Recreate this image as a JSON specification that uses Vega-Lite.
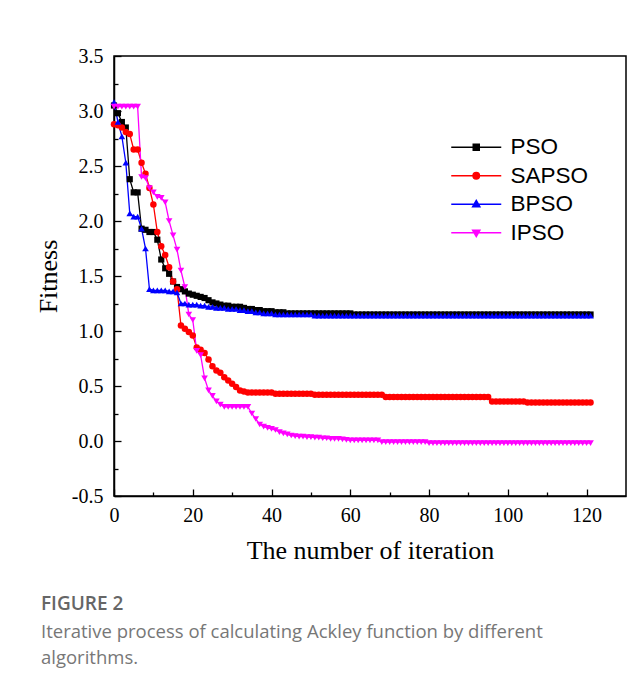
{
"$schema": "https://vega.github.io/schema/vega-lite/v6.json",
"width": 512, "height": 440,
"autosize": {"type": "none"},
"padding": {"left": 114, "top": 56, "right": 17, "bottom": 191},
"background": "white",
"config": {"view": {"stroke": "black", "strokeWidth": 1.5}},
"title": {"text": "FIGURE 2", "subtitle": ["Iterative process of calculating Ackley function by different", "algorithms."], "orient": "bottom", "anchor": "start", "frame": "group", "dx": -73, "offset": 32, "font": "Open Sans", "fontSize": 19, "fontWeight": 600, "color": "#666666", "subtitleFont": "Open Sans", "subtitleFontSize": 18.5, "subtitleColor": "#777777", "subtitleLineHeight": 26, "subtitlePadding": 9},
"data": {"values": [
{"i":0,"s":"PSO","f":3.05},{"i":1,"s":"PSO","f":2.98},{"i":2,"s":"PSO","f":2.9},{"i":3,"s":"PSO","f":2.85},{"i":4,"s":"PSO","f":2.38},{"i":5,"s":"PSO","f":2.26},{"i":6,"s":"PSO","f":2.26},{"i":7,"s":"PSO","f":1.93},{"i":8,"s":"PSO","f":1.92},{"i":9,"s":"PSO","f":1.9},{"i":10,"s":"PSO","f":1.9},{"i":11,"s":"PSO","f":1.83},{"i":12,"s":"PSO","f":1.65},{"i":13,"s":"PSO","f":1.57},{"i":14,"s":"PSO","f":1.52},{"i":15,"s":"PSO","f":1.45},{"i":16,"s":"PSO","f":1.4},{"i":17,"s":"PSO","f":1.38},{"i":18,"s":"PSO","f":1.36},{"i":19,"s":"PSO","f":1.34},{"i":20,"s":"PSO","f":1.33},{"i":21,"s":"PSO","f":1.32},{"i":22,"s":"PSO","f":1.31},{"i":23,"s":"PSO","f":1.3},{"i":24,"s":"PSO","f":1.28},{"i":25,"s":"PSO","f":1.26},{"i":26,"s":"PSO","f":1.25},{"i":27,"s":"PSO","f":1.24},{"i":28,"s":"PSO","f":1.23},{"i":29,"s":"PSO","f":1.23},{"i":30,"s":"PSO","f":1.22},{"i":31,"s":"PSO","f":1.22},{"i":32,"s":"PSO","f":1.22},{"i":33,"s":"PSO","f":1.21},{"i":34,"s":"PSO","f":1.2},{"i":35,"s":"PSO","f":1.2},{"i":36,"s":"PSO","f":1.19},{"i":37,"s":"PSO","f":1.19},{"i":38,"s":"PSO","f":1.18},{"i":39,"s":"PSO","f":1.18},{"i":40,"s":"PSO","f":1.18},{"i":41,"s":"PSO","f":1.17},{"i":42,"s":"PSO","f":1.17},{"i":43,"s":"PSO","f":1.17},{"i":44,"s":"PSO","f":1.16},{"i":45,"s":"PSO","f":1.16},{"i":46,"s":"PSO","f":1.16},{"i":47,"s":"PSO","f":1.16},{"i":48,"s":"PSO","f":1.16},{"i":49,"s":"PSO","f":1.16},{"i":50,"s":"PSO","f":1.16},{"i":51,"s":"PSO","f":1.16},{"i":52,"s":"PSO","f":1.16},{"i":53,"s":"PSO","f":1.16},{"i":54,"s":"PSO","f":1.16},{"i":55,"s":"PSO","f":1.16},{"i":56,"s":"PSO","f":1.16},{"i":57,"s":"PSO","f":1.16},{"i":58,"s":"PSO","f":1.16},{"i":59,"s":"PSO","f":1.16},{"i":60,"s":"PSO","f":1.16},
{"i":61,"s":"PSO","f":1.15},{"i":62,"s":"PSO","f":1.15},{"i":63,"s":"PSO","f":1.15},{"i":64,"s":"PSO","f":1.15},{"i":65,"s":"PSO","f":1.15},{"i":66,"s":"PSO","f":1.15},{"i":67,"s":"PSO","f":1.15},{"i":68,"s":"PSO","f":1.15},{"i":69,"s":"PSO","f":1.15},{"i":70,"s":"PSO","f":1.15},{"i":71,"s":"PSO","f":1.15},{"i":72,"s":"PSO","f":1.15},{"i":73,"s":"PSO","f":1.15},{"i":74,"s":"PSO","f":1.15},{"i":75,"s":"PSO","f":1.15},{"i":76,"s":"PSO","f":1.15},{"i":77,"s":"PSO","f":1.15},{"i":78,"s":"PSO","f":1.15},{"i":79,"s":"PSO","f":1.15},{"i":80,"s":"PSO","f":1.15},{"i":81,"s":"PSO","f":1.15},{"i":82,"s":"PSO","f":1.15},{"i":83,"s":"PSO","f":1.15},{"i":84,"s":"PSO","f":1.15},{"i":85,"s":"PSO","f":1.15},{"i":86,"s":"PSO","f":1.15},{"i":87,"s":"PSO","f":1.15},{"i":88,"s":"PSO","f":1.15},{"i":89,"s":"PSO","f":1.15},{"i":90,"s":"PSO","f":1.15},{"i":91,"s":"PSO","f":1.15},{"i":92,"s":"PSO","f":1.15},{"i":93,"s":"PSO","f":1.15},{"i":94,"s":"PSO","f":1.15},{"i":95,"s":"PSO","f":1.15},{"i":96,"s":"PSO","f":1.15},{"i":97,"s":"PSO","f":1.15},{"i":98,"s":"PSO","f":1.15},{"i":99,"s":"PSO","f":1.15},{"i":100,"s":"PSO","f":1.15},{"i":101,"s":"PSO","f":1.15},{"i":102,"s":"PSO","f":1.15},{"i":103,"s":"PSO","f":1.15},{"i":104,"s":"PSO","f":1.15},{"i":105,"s":"PSO","f":1.15},{"i":106,"s":"PSO","f":1.15},{"i":107,"s":"PSO","f":1.15},{"i":108,"s":"PSO","f":1.15},{"i":109,"s":"PSO","f":1.15},{"i":110,"s":"PSO","f":1.15},{"i":111,"s":"PSO","f":1.15},{"i":112,"s":"PSO","f":1.15},{"i":113,"s":"PSO","f":1.15},{"i":114,"s":"PSO","f":1.15},{"i":115,"s":"PSO","f":1.15},{"i":116,"s":"PSO","f":1.15},{"i":117,"s":"PSO","f":1.15},{"i":118,"s":"PSO","f":1.15},{"i":119,"s":"PSO","f":1.15},{"i":120,"s":"PSO","f":1.15},{"i":121,"s":"PSO","f":1.15},
{"i":0,"s":"SAPSO","f":2.88},{"i":1,"s":"SAPSO","f":2.87},{"i":2,"s":"SAPSO","f":2.85},{"i":3,"s":"SAPSO","f":2.81},{"i":4,"s":"SAPSO","f":2.79},{"i":5,"s":"SAPSO","f":2.65},{"i":6,"s":"SAPSO","f":2.65},{"i":7,"s":"SAPSO","f":2.53},{"i":8,"s":"SAPSO","f":2.43},{"i":9,"s":"SAPSO","f":2.3},{"i":10,"s":"SAPSO","f":2.15},{"i":11,"s":"SAPSO","f":1.9},{"i":12,"s":"SAPSO","f":1.77},{"i":13,"s":"SAPSO","f":1.69},{"i":14,"s":"SAPSO","f":1.58},{"i":15,"s":"SAPSO","f":1.45},{"i":16,"s":"SAPSO","f":1.38},{"i":17,"s":"SAPSO","f":1.05},{"i":18,"s":"SAPSO","f":1.02},{"i":19,"s":"SAPSO","f":0.99},{"i":20,"s":"SAPSO","f":0.96},{"i":21,"s":"SAPSO","f":0.85},{"i":22,"s":"SAPSO","f":0.83},{"i":23,"s":"SAPSO","f":0.8},{"i":24,"s":"SAPSO","f":0.74},{"i":25,"s":"SAPSO","f":0.68},{"i":26,"s":"SAPSO","f":0.64},{"i":27,"s":"SAPSO","f":0.62},{"i":28,"s":"SAPSO","f":0.58},{"i":29,"s":"SAPSO","f":0.55},{"i":30,"s":"SAPSO","f":0.52},{"i":31,"s":"SAPSO","f":0.49},{"i":32,"s":"SAPSO","f":0.46},{"i":33,"s":"SAPSO","f":0.45},{"i":34,"s":"SAPSO","f":0.44},{"i":35,"s":"SAPSO","f":0.44},{"i":36,"s":"SAPSO","f":0.44},{"i":37,"s":"SAPSO","f":0.44},{"i":38,"s":"SAPSO","f":0.44},{"i":39,"s":"SAPSO","f":0.44},{"i":40,"s":"SAPSO","f":0.44},{"i":41,"s":"SAPSO","f":0.43},{"i":42,"s":"SAPSO","f":0.43},{"i":43,"s":"SAPSO","f":0.43},{"i":44,"s":"SAPSO","f":0.43},{"i":45,"s":"SAPSO","f":0.43},{"i":46,"s":"SAPSO","f":0.43},{"i":47,"s":"SAPSO","f":0.43},{"i":48,"s":"SAPSO","f":0.43},{"i":49,"s":"SAPSO","f":0.43},{"i":50,"s":"SAPSO","f":0.43},{"i":51,"s":"SAPSO","f":0.42},{"i":52,"s":"SAPSO","f":0.42},{"i":53,"s":"SAPSO","f":0.42},{"i":54,"s":"SAPSO","f":0.42},{"i":55,"s":"SAPSO","f":0.42},{"i":56,"s":"SAPSO","f":0.42},{"i":57,"s":"SAPSO","f":0.42},{"i":58,"s":"SAPSO","f":0.42},{"i":59,"s":"SAPSO","f":0.42},{"i":60,"s":"SAPSO","f":0.42},{"i":61,"s":"SAPSO","f":0.42},{"i":62,"s":"SAPSO","f":0.42},{"i":63,"s":"SAPSO","f":0.42},{"i":64,"s":"SAPSO","f":0.42},{"i":65,"s":"SAPSO","f":0.42},{"i":66,"s":"SAPSO","f":0.42},{"i":67,"s":"SAPSO","f":0.42},{"i":68,"s":"SAPSO","f":0.42},
{"i":69,"s":"SAPSO","f":0.4},{"i":70,"s":"SAPSO","f":0.4},{"i":71,"s":"SAPSO","f":0.4},{"i":72,"s":"SAPSO","f":0.4},{"i":73,"s":"SAPSO","f":0.4},{"i":74,"s":"SAPSO","f":0.4},{"i":75,"s":"SAPSO","f":0.4},{"i":76,"s":"SAPSO","f":0.4},{"i":77,"s":"SAPSO","f":0.4},{"i":78,"s":"SAPSO","f":0.4},{"i":79,"s":"SAPSO","f":0.4},{"i":80,"s":"SAPSO","f":0.4},{"i":81,"s":"SAPSO","f":0.4},{"i":82,"s":"SAPSO","f":0.4},{"i":83,"s":"SAPSO","f":0.4},{"i":84,"s":"SAPSO","f":0.4},{"i":85,"s":"SAPSO","f":0.4},{"i":86,"s":"SAPSO","f":0.4},{"i":87,"s":"SAPSO","f":0.4},{"i":88,"s":"SAPSO","f":0.4},{"i":89,"s":"SAPSO","f":0.4},{"i":90,"s":"SAPSO","f":0.4},{"i":91,"s":"SAPSO","f":0.4},{"i":92,"s":"SAPSO","f":0.4},{"i":93,"s":"SAPSO","f":0.4},{"i":94,"s":"SAPSO","f":0.4},{"i":95,"s":"SAPSO","f":0.4},{"i":96,"s":"SAPSO","f":0.36},{"i":97,"s":"SAPSO","f":0.36},{"i":98,"s":"SAPSO","f":0.36},{"i":99,"s":"SAPSO","f":0.36},{"i":100,"s":"SAPSO","f":0.36},{"i":101,"s":"SAPSO","f":0.36},{"i":102,"s":"SAPSO","f":0.36},{"i":103,"s":"SAPSO","f":0.36},{"i":104,"s":"SAPSO","f":0.36},{"i":105,"s":"SAPSO","f":0.35},{"i":106,"s":"SAPSO","f":0.35},{"i":107,"s":"SAPSO","f":0.35},{"i":108,"s":"SAPSO","f":0.35},{"i":109,"s":"SAPSO","f":0.35},{"i":110,"s":"SAPSO","f":0.35},{"i":111,"s":"SAPSO","f":0.35},{"i":112,"s":"SAPSO","f":0.35},{"i":113,"s":"SAPSO","f":0.35},{"i":114,"s":"SAPSO","f":0.35},{"i":115,"s":"SAPSO","f":0.35},{"i":116,"s":"SAPSO","f":0.35},{"i":117,"s":"SAPSO","f":0.35},{"i":118,"s":"SAPSO","f":0.35},{"i":119,"s":"SAPSO","f":0.35},{"i":120,"s":"SAPSO","f":0.35},{"i":121,"s":"SAPSO","f":0.35},
{"i":0,"s":"BPSO","f":3.08},{"i":1,"s":"BPSO","f":2.9},{"i":2,"s":"BPSO","f":2.77},{"i":3,"s":"BPSO","f":2.53},{"i":4,"s":"BPSO","f":2.07},{"i":5,"s":"BPSO","f":2.04},{"i":6,"s":"BPSO","f":2.04},{"i":7,"s":"BPSO","f":1.93},{"i":8,"s":"BPSO","f":1.75},{"i":9,"s":"BPSO","f":1.38},{"i":10,"s":"BPSO","f":1.37},{"i":11,"s":"BPSO","f":1.37},{"i":12,"s":"BPSO","f":1.37},{"i":13,"s":"BPSO","f":1.37},{"i":14,"s":"BPSO","f":1.36},{"i":15,"s":"BPSO","f":1.36},{"i":16,"s":"BPSO","f":1.35},{"i":17,"s":"BPSO","f":1.25},{"i":18,"s":"BPSO","f":1.25},{"i":19,"s":"BPSO","f":1.24},{"i":20,"s":"BPSO","f":1.24},{"i":21,"s":"BPSO","f":1.24},{"i":22,"s":"BPSO","f":1.23},{"i":23,"s":"BPSO","f":1.23},{"i":24,"s":"BPSO","f":1.22},{"i":25,"s":"BPSO","f":1.22},{"i":26,"s":"BPSO","f":1.21},{"i":27,"s":"BPSO","f":1.21},{"i":28,"s":"BPSO","f":1.21},{"i":29,"s":"BPSO","f":1.2},{"i":30,"s":"BPSO","f":1.2},{"i":31,"s":"BPSO","f":1.2},{"i":32,"s":"BPSO","f":1.19},{"i":33,"s":"BPSO","f":1.19},{"i":34,"s":"BPSO","f":1.18},{"i":35,"s":"BPSO","f":1.18},{"i":36,"s":"BPSO","f":1.17},{"i":37,"s":"BPSO","f":1.17},{"i":38,"s":"BPSO","f":1.16},{"i":39,"s":"BPSO","f":1.16},{"i":40,"s":"BPSO","f":1.16},{"i":41,"s":"BPSO","f":1.15},{"i":42,"s":"BPSO","f":1.15},{"i":43,"s":"BPSO","f":1.15},{"i":44,"s":"BPSO","f":1.15},{"i":45,"s":"BPSO","f":1.15},{"i":46,"s":"BPSO","f":1.15},{"i":47,"s":"BPSO","f":1.15},{"i":48,"s":"BPSO","f":1.15},{"i":49,"s":"BPSO","f":1.15},{"i":50,"s":"BPSO","f":1.15},
{"i":51,"s":"BPSO","f":1.14},{"i":52,"s":"BPSO","f":1.14},{"i":53,"s":"BPSO","f":1.14},{"i":54,"s":"BPSO","f":1.14},{"i":55,"s":"BPSO","f":1.14},{"i":56,"s":"BPSO","f":1.14},{"i":57,"s":"BPSO","f":1.14},{"i":58,"s":"BPSO","f":1.14},{"i":59,"s":"BPSO","f":1.14},{"i":60,"s":"BPSO","f":1.14},{"i":61,"s":"BPSO","f":1.14},{"i":62,"s":"BPSO","f":1.14},{"i":63,"s":"BPSO","f":1.14},{"i":64,"s":"BPSO","f":1.14},{"i":65,"s":"BPSO","f":1.14},{"i":66,"s":"BPSO","f":1.14},{"i":67,"s":"BPSO","f":1.14},{"i":68,"s":"BPSO","f":1.14},{"i":69,"s":"BPSO","f":1.14},{"i":70,"s":"BPSO","f":1.14},{"i":71,"s":"BPSO","f":1.14},{"i":72,"s":"BPSO","f":1.14},{"i":73,"s":"BPSO","f":1.14},{"i":74,"s":"BPSO","f":1.14},{"i":75,"s":"BPSO","f":1.14},{"i":76,"s":"BPSO","f":1.14},{"i":77,"s":"BPSO","f":1.14},{"i":78,"s":"BPSO","f":1.14},{"i":79,"s":"BPSO","f":1.14},{"i":80,"s":"BPSO","f":1.14},{"i":81,"s":"BPSO","f":1.14},{"i":82,"s":"BPSO","f":1.14},{"i":83,"s":"BPSO","f":1.14},{"i":84,"s":"BPSO","f":1.14},{"i":85,"s":"BPSO","f":1.14},{"i":86,"s":"BPSO","f":1.14},{"i":87,"s":"BPSO","f":1.14},{"i":88,"s":"BPSO","f":1.14},{"i":89,"s":"BPSO","f":1.14},{"i":90,"s":"BPSO","f":1.14},{"i":91,"s":"BPSO","f":1.14},{"i":92,"s":"BPSO","f":1.14},{"i":93,"s":"BPSO","f":1.14},{"i":94,"s":"BPSO","f":1.14},{"i":95,"s":"BPSO","f":1.14},{"i":96,"s":"BPSO","f":1.14},{"i":97,"s":"BPSO","f":1.14},{"i":98,"s":"BPSO","f":1.14},{"i":99,"s":"BPSO","f":1.14},{"i":100,"s":"BPSO","f":1.14},{"i":101,"s":"BPSO","f":1.14},{"i":102,"s":"BPSO","f":1.14},{"i":103,"s":"BPSO","f":1.14},{"i":104,"s":"BPSO","f":1.14},{"i":105,"s":"BPSO","f":1.14},{"i":106,"s":"BPSO","f":1.14},{"i":107,"s":"BPSO","f":1.14},{"i":108,"s":"BPSO","f":1.14},{"i":109,"s":"BPSO","f":1.14},{"i":110,"s":"BPSO","f":1.14},{"i":111,"s":"BPSO","f":1.14},{"i":112,"s":"BPSO","f":1.14},{"i":113,"s":"BPSO","f":1.14},{"i":114,"s":"BPSO","f":1.14},{"i":115,"s":"BPSO","f":1.14},{"i":116,"s":"BPSO","f":1.14},{"i":117,"s":"BPSO","f":1.14},{"i":118,"s":"BPSO","f":1.14},{"i":119,"s":"BPSO","f":1.14},{"i":120,"s":"BPSO","f":1.14},{"i":121,"s":"BPSO","f":1.14},
{"i":0,"s":"IPSO","f":3.04},{"i":1,"s":"IPSO","f":3.04},{"i":2,"s":"IPSO","f":3.04},{"i":3,"s":"IPSO","f":3.04},{"i":4,"s":"IPSO","f":3.04},{"i":5,"s":"IPSO","f":3.04},{"i":6,"s":"IPSO","f":3.04},{"i":7,"s":"IPSO","f":2.4},{"i":8,"s":"IPSO","f":2.39},{"i":9,"s":"IPSO","f":2.3},{"i":10,"s":"IPSO","f":2.26},{"i":11,"s":"IPSO","f":2.22},{"i":12,"s":"IPSO","f":2.21},{"i":13,"s":"IPSO","f":2.17},{"i":14,"s":"IPSO","f":2.0},{"i":15,"s":"IPSO","f":1.87},{"i":16,"s":"IPSO","f":1.74},{"i":17,"s":"IPSO","f":1.55},{"i":18,"s":"IPSO","f":1.4},{"i":19,"s":"IPSO","f":1.15},{"i":20,"s":"IPSO","f":1.1},{"i":21,"s":"IPSO","f":0.82},{"i":22,"s":"IPSO","f":0.78},{"i":23,"s":"IPSO","f":0.57},{"i":24,"s":"IPSO","f":0.46},{"i":25,"s":"IPSO","f":0.41},{"i":26,"s":"IPSO","f":0.36},{"i":27,"s":"IPSO","f":0.33},{"i":28,"s":"IPSO","f":0.31},{"i":29,"s":"IPSO","f":0.31},{"i":30,"s":"IPSO","f":0.31},{"i":31,"s":"IPSO","f":0.31},{"i":32,"s":"IPSO","f":0.31},{"i":33,"s":"IPSO","f":0.31},{"i":34,"s":"IPSO","f":0.31},{"i":35,"s":"IPSO","f":0.25},{"i":36,"s":"IPSO","f":0.2},{"i":37,"s":"IPSO","f":0.15},{"i":38,"s":"IPSO","f":0.13},{"i":39,"s":"IPSO","f":0.12},{"i":40,"s":"IPSO","f":0.11},{"i":41,"s":"IPSO","f":0.1},{"i":42,"s":"IPSO","f":0.08},{"i":43,"s":"IPSO","f":0.07},{"i":44,"s":"IPSO","f":0.06},{"i":45,"s":"IPSO","f":0.05},{"i":46,"s":"IPSO","f":0.045},{"i":47,"s":"IPSO","f":0.04},{"i":48,"s":"IPSO","f":0.04},{"i":49,"s":"IPSO","f":0.035},{"i":50,"s":"IPSO","f":0.035},{"i":51,"s":"IPSO","f":0.03},{"i":52,"s":"IPSO","f":0.03},{"i":53,"s":"IPSO","f":0.025},{"i":54,"s":"IPSO","f":0.025},{"i":55,"s":"IPSO","f":0.02},{"i":56,"s":"IPSO","f":0.02},{"i":57,"s":"IPSO","f":0.02},{"i":58,"s":"IPSO","f":0.015},{"i":59,"s":"IPSO","f":0.01},{"i":60,"s":"IPSO","f":0.005},{"i":61,"s":"IPSO","f":0.005},{"i":62,"s":"IPSO","f":0.005},{"i":63,"s":"IPSO","f":0.005},{"i":64,"s":"IPSO","f":0.005},{"i":65,"s":"IPSO","f":0.005},{"i":66,"s":"IPSO","f":0.005},{"i":67,"s":"IPSO","f":0.005},
{"i":68,"s":"IPSO","f":-0.01},{"i":69,"s":"IPSO","f":-0.01},{"i":70,"s":"IPSO","f":-0.01},{"i":71,"s":"IPSO","f":-0.01},{"i":72,"s":"IPSO","f":-0.01},{"i":73,"s":"IPSO","f":-0.01},{"i":74,"s":"IPSO","f":-0.01},{"i":75,"s":"IPSO","f":-0.01},{"i":76,"s":"IPSO","f":-0.01},{"i":77,"s":"IPSO","f":-0.01},{"i":78,"s":"IPSO","f":-0.01},{"i":79,"s":"IPSO","f":-0.01},{"i":80,"s":"IPSO","f":-0.02},{"i":81,"s":"IPSO","f":-0.02},{"i":82,"s":"IPSO","f":-0.02},{"i":83,"s":"IPSO","f":-0.02},{"i":84,"s":"IPSO","f":-0.02},{"i":85,"s":"IPSO","f":-0.02},{"i":86,"s":"IPSO","f":-0.02},{"i":87,"s":"IPSO","f":-0.02},{"i":88,"s":"IPSO","f":-0.02},{"i":89,"s":"IPSO","f":-0.02},{"i":90,"s":"IPSO","f":-0.02},{"i":91,"s":"IPSO","f":-0.02},{"i":92,"s":"IPSO","f":-0.02},{"i":93,"s":"IPSO","f":-0.02},{"i":94,"s":"IPSO","f":-0.02},{"i":95,"s":"IPSO","f":-0.02},{"i":96,"s":"IPSO","f":-0.02},{"i":97,"s":"IPSO","f":-0.02},{"i":98,"s":"IPSO","f":-0.02},{"i":99,"s":"IPSO","f":-0.02},{"i":100,"s":"IPSO","f":-0.02},{"i":101,"s":"IPSO","f":-0.02},{"i":102,"s":"IPSO","f":-0.02},{"i":103,"s":"IPSO","f":-0.02},{"i":104,"s":"IPSO","f":-0.02},{"i":105,"s":"IPSO","f":-0.02},{"i":106,"s":"IPSO","f":-0.02},{"i":107,"s":"IPSO","f":-0.02},{"i":108,"s":"IPSO","f":-0.02},{"i":109,"s":"IPSO","f":-0.02},{"i":110,"s":"IPSO","f":-0.02},{"i":111,"s":"IPSO","f":-0.02},{"i":112,"s":"IPSO","f":-0.02},{"i":113,"s":"IPSO","f":-0.02},{"i":114,"s":"IPSO","f":-0.02},{"i":115,"s":"IPSO","f":-0.02},{"i":116,"s":"IPSO","f":-0.02},{"i":117,"s":"IPSO","f":-0.02},{"i":118,"s":"IPSO","f":-0.02},{"i":119,"s":"IPSO","f":-0.02},{"i":120,"s":"IPSO","f":-0.02},{"i":121,"s":"IPSO","f":-0.02}
]},
"encoding": {
  "x": {"field": "i", "type": "quantitative", "scale": {"domain": [0, 130], "nice": false, "zero": false},
    "axis": {"title": "The number of iteration", "values": [0,10,20,30,40,50,60,70,80,90,100,110,120],
      "labelExpr": "datum.value % 20 === 0 ? datum.label : ''",
      "tickSize": {"condition": {"test": "datum.value % 20 === 0", "value": -7}, "value": -4},
      "tickColor": "black", "tickWidth": 1.3, "domainColor": "black", "domainWidth": 1.5,
      "labelFont": "Liberation Serif", "labelFontSize": 20, "labelColor": "black", "labelPadding": 16, "labelFlush": false,
      "titleFont": "Liberation Serif", "titleFontSize": 26, "titleFontWeight": "normal", "titleColor": "black", "titlePadding": 12, "grid": false}},
  "y": {"field": "f", "type": "quantitative", "scale": {"domain": [-0.5, 3.5], "nice": false, "zero": false},
    "axis": {"title": "Fitness", "values": [-0.5,-0.25,0,0.25,0.5,0.75,1,1.25,1.5,1.75,2,2.25,2.5,2.75,3,3.25,3.5],
      "labelExpr": "(datum.value * 2) % 1 === 0 ? (datum.value < 0 ? '-' + format(-datum.value, '.1f') : format(datum.value, '.1f')) : ''",
      "tickSize": {"condition": {"test": "(datum.value * 2) % 1 === 0", "value": -7}, "value": -4},
      "tickColor": "black", "tickWidth": 1.3, "domainColor": "black", "domainWidth": 1.5,
      "labelFont": "Liberation Serif", "labelFontSize": 20, "labelColor": "black", "labelPadding": 18, "labelFlush": false,
      "titleFont": "Liberation Serif", "titleFontSize": 26, "titleFontWeight": "normal", "titleColor": "black", "titlePadding": 10, "grid": false}},
  "color": {"field": "s", "type": "nominal",
    "scale": {"domain": ["PSO", "SAPSO", "BPSO", "IPSO"], "range": ["#000000", "#ff0000", "#0000ff", "#ff00ff"]},
    "legend": {"title": null, "orient": "none", "legendX": 351, "legendY": 80, "padding": 0,
      "symbolSize": 400, "rowPadding": 5.5, "labelOffset": 23,
      "labelFont": "Liberation Sans", "labelFontSize": 22.5, "labelColor": "black", "labelLimit": 200,
      "encode": {"symbols": {"update": {
        "shape": {"signal": "datum.value === 'PSO' ? 'M-2.5,0H2.5M-0.3,-0.3H0.3V0.3H-0.3Z' : datum.value === 'SAPSO' ? 'M-2.5,0H2.5M-0.32,0A0.32,0.32 0 1,0 0.32,0A0.32,0.32 0 1,0 -0.32,0Z' : datum.value === 'BPSO' ? 'M-2.5,0H2.5M0,-0.38L0.36,0.26H-0.36Z' : 'M-2.5,0H2.5M0,0.38L0.36,-0.26H-0.36Z'"},
        "fill": {"scale": "color", "field": "value"},
        "stroke": {"scale": "color", "field": "value"},
        "strokeWidth": {"value": 1.5},
        "opacity": {"value": 1}, "fillOpacity": {"value": 1}, "strokeOpacity": {"value": 1}
      }}}}}
},
"layer": [
  {"mark": {"type": "line", "strokeWidth": 1.3}},
  {"transform": [{"filter": "datum.s === 'PSO'"}], "mark": {"type": "point", "shape": "square", "filled": true, "opacity": 1, "size": 38}},
  {"transform": [{"filter": "datum.s === 'SAPSO'"}], "mark": {"type": "point", "shape": "circle", "filled": true, "opacity": 1, "size": 42}},
  {"transform": [{"filter": "datum.s === 'BPSO'"}], "mark": {"type": "point", "shape": "triangle-up", "filled": true, "opacity": 1, "size": 44}},
  {"transform": [{"filter": "datum.s === 'IPSO'"}], "mark": {"type": "point", "shape": "triangle-down", "filled": true, "opacity": 1, "size": 44}}
]
}
